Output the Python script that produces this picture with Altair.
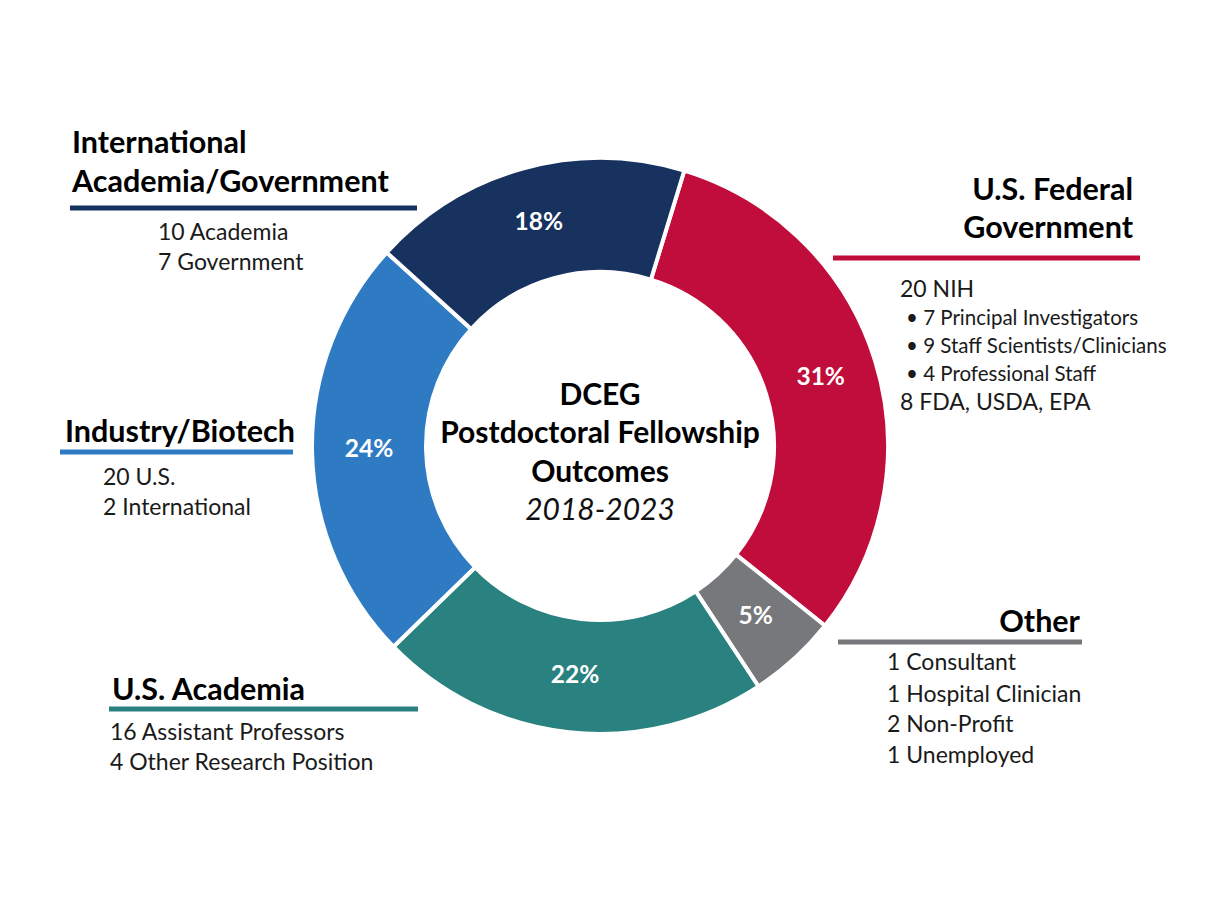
import math
import altair as alt
import pandas as pd

# ---- data ----
categories = ["U.S. Federal Government", "Other", "U.S. Academia",
              "Industry/Biotech", "International Academia/Government"]
shares = [31, 5, 22, 24, 18]
pct_labels = ["31%", "5%", "22%", "24%", "18%"]
seg_order = [0, 1, 2, 3, 4]
seg_colors = ["#C00D3B", "#76787B", "#2A8280", "#2E7BC3", "#17325E"]

center_lines = ["DCEG", "Postdoctoral Fellowship", "Outcomes"]
center_years = "2018-2023"

intl_title = ["International", "Academia/Government"]
intl_items = ["10 Academia", "7 Government"]
fed_title = ["U.S. Federal", "Government"]
fed_items = ["20 NIH", "8 FDA, USDA, EPA"]
fed_bullets = ["\u2022 7 Principal Investigators",
               "\u2022 9 Staff Scientists/Clinicians",
               "\u2022 4 Professional Staff"]
ind_title = ["Industry/Biotech"]
ind_items = ["20 U.S.", "2 International"]
acad_title = ["U.S. Academia"]
acad_items = ["16 Assistant Professors", "4 Other Research Position"]
other_title = ["Other"]
other_items = ["1 Consultant", "1 Hospital Clinician", "2 Non-Profit", "1 Unemployed"]

FONT = "Lato"
CX, CY = 592, 438
OFF = 0.297

df = pd.DataFrame({"cat": categories, "share": shares, "label": pct_labels, "ord": seg_order})

base = alt.Chart(df).encode(
    theta=alt.Theta("share:Q", stack=True,
                    scale=alt.Scale(domain=[0, 100], range=[OFF, OFF + 2 * math.pi])),
    order=alt.Order("ord:Q"),
)

arcs = base.mark_arc(innerRadius=174, outerRadius=288, stroke="white", strokeWidth=4).encode(
    color=alt.Color("cat:N", scale=alt.Scale(domain=categories, range=seg_colors), legend=None),
    x=alt.value(CX), y=alt.value(CY),
)

pcts = base.mark_text(radius=231, color="white", font=FONT, fontSize=24.5, fontWeight="bold",
                      baseline="middle", align="center").encode(
    text="label:N", x=alt.value(CX), y=alt.value(CY),
)


def txt(s, x, y, size, weight="normal", align="left", style="normal", color="#1a1a1a"):
    return alt.Chart(pd.DataFrame({"t": [s]})).mark_text(
        align=align, baseline="alphabetic", fontSize=size, fontWeight=weight,
        fontStyle=style, font=FONT, color=color,
    ).encode(x=alt.value(x), y=alt.value(y), text="t:N")


def rule(x1, x2, y, color):
    return alt.Chart(pd.DataFrame({"a": [0]})).mark_rule(strokeWidth=5, color=color).encode(
        x=alt.value(x1), x2=alt.value(x2), y=alt.value(y))


layers = [arcs, pcts]
H = 30.5  # heading size
C = 30    # center title size
S = 23    # item size
B = 20.5  # bullet size

# center
layers += [txt(center_lines[0], CX, 397, C, "bold", "center", color="#000"),
           txt(center_lines[1], CX, 435, C, "bold", "center", color="#000"),
           txt(center_lines[2], CX, 474, C, "bold", "center", color="#000"),
           txt(center_years, CX, 512, C, "normal", "center", "italic", color="#111")]

# International
layers += [txt(intl_title[0], 64, 145, H, "bold", color="#000"),
           txt(intl_title[1], 64, 184, H, "bold", color="#000"),
           rule(62, 409, 200, seg_colors[4]),
           txt(intl_items[0], 150, 232, S),
           txt(intl_items[1], 150, 262, S)]

# Federal
layers += [txt(fed_title[0], 1125, 192, H, "bold", "right", color="#000"),
           txt(fed_title[1], 1125, 230, H, "bold", "right", color="#000"),
           rule(825, 1132, 250, seg_colors[0]),
           txt(fed_items[0], 892, 289, S),
           txt(fed_bullets[0], 898, 317, B),
           txt(fed_bullets[1], 898, 345, B),
           txt(fed_bullets[2], 898, 373, B),
           txt(fed_items[1], 892, 402, S)]

# Industry
layers += [txt(ind_title[0], 57, 434, H, "bold", color="#000"),
           rule(52, 285, 444, seg_colors[3]),
           txt(ind_items[0], 95, 477, S),
           txt(ind_items[1], 95, 507, S)]

# US Academia
layers += [txt(acad_title[0], 104, 692, H, "bold", color="#000"),
           rule(101, 410, 701, seg_colors[2]),
           txt(acad_items[0], 102, 732, S),
           txt(acad_items[1], 102, 762, S)]

# Other
layers += [txt(other_title[0], 1072, 624, H, "bold", "right", color="#000"),
           rule(830, 1074, 634, seg_colors[1]),
           txt(other_items[0], 879, 662, S),
           txt(other_items[1], 879, 694, S),
           txt(other_items[2], 879, 724, S),
           txt(other_items[3], 879, 755, S)]

chart = alt.layer(*layers).properties(
    width=1200, height=890, padding=0, background="white"
).configure_view(stroke=None, strokeWidth=0)

chart.save("out.html", embed_options={"renderer": "svg", "actions": False})
